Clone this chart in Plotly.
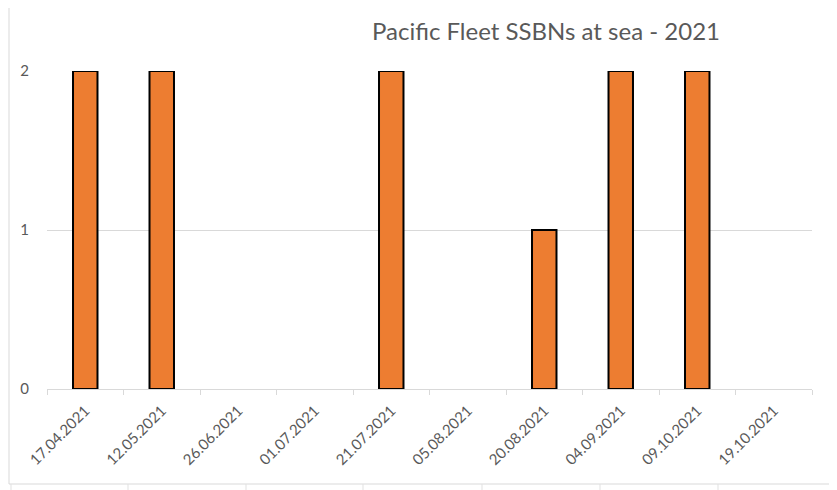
import plotly.graph_objects as go

dates = ["17.04.2021", "12.05.2021", "26.06.2021", "01.07.2021", "21.07.2021",
         "05.08.2021", "20.08.2021", "04.09.2021", "09.10.2021", "19.10.2021"]
ssbns_at_sea = [2, 2, 0, 0, 2, 0, 1, 2, 2, 0]

# page body has an 8px default margin: the figure starts at (8, 8) of the window
OFF = 8
W, H = 837 - OFF, 490 - OFF
L, R, T, B = 47 - OFF, 25, 71 - OFF, 101
PW, PH = W - L - R, H - T - B


def px(x):  # window pixel -> paper
    return (x - OFF - L) / PW


def py(y):
    return (H - B - (y - OFF)) / PH


fig = go.Figure()
fig.add_trace(go.Bar(
    x=dates,
    y=[v if v else None for v in ssbns_at_sea],
    marker=dict(color="#ED7D31", line=dict(color="#000000", width=2)),
    width=0.32,
    hoverinfo="x+y",
))

grid = "#D9D9D9"
shapes = []
# chart-area border (Excel chart object frame)
shapes.append(dict(type="line", xref="paper", yref="paper", x0=px(9), x1=px(9), y0=py(484), y1=py(0),
                   line=dict(color=grid, width=1)))
shapes.append(dict(type="line", xref="paper", yref="paper", x0=px(835), x1=px(835), y0=py(484), y1=py(0),
                   line=dict(color=grid, width=1)))
shapes.append(dict(type="line", xref="paper", yref="paper", x0=px(9), x1=px(835), y0=py(484), y1=py(484),
                   line=dict(color=grid, width=1)))
# spreadsheet cell lines peeking below the chart
for xx in [11, 128, 246, 363, 482, 600, 718]:
    shapes.append(dict(type="line", xref="paper", yref="paper", x0=px(xx), x1=px(xx), y0=py(484), y1=py(490),
                       line=dict(color="#E1E1E1", width=1)))

fig.update_layout(
    width=W, height=H,
    margin=dict(l=L, r=R, t=T, b=B, pad=0, autoexpand=False),
    paper_bgcolor="white", plot_bgcolor="white",
    showlegend=False,
    bargap=0.68,
    font=dict(family="Lato, 'Open Sans', sans-serif", color="#595959"),
    title=dict(text="Pacific Fleet SSBNs at sea - 2021", x=(546 - OFF) / W, xanchor="center", xref="container",
               y=1 - (32 - OFF) / H, yanchor="middle", yref="container", automargin=False,
               font=dict(size=24, color="#595959", family="Lato, 'Open Sans', sans-serif")),
    xaxis=dict(type="category", tickangle=-45, tickfont=dict(size=15, color="#595959"),
               showline=True, linecolor="#D9D9D9", linewidth=1, automargin=False,
               ticks="outside", ticklen=5, tickcolor="#D9D9D9", tickson="boundaries",
               ticklabelstandoff=6, showgrid=False, zeroline=False),
    yaxis=dict(range=[0, 2], tickvals=[0, 1, 2], ticktext=["0", "1", "2"],
               tickfont=dict(size=15, color="#595959"), automargin=False,
               showgrid=True, gridcolor="#D9D9D9", gridwidth=1,
               showline=False, zeroline=False, ticks="", ticklabelstandoff=17),
    shapes=shapes,
)

fig.write_html("out.html")
